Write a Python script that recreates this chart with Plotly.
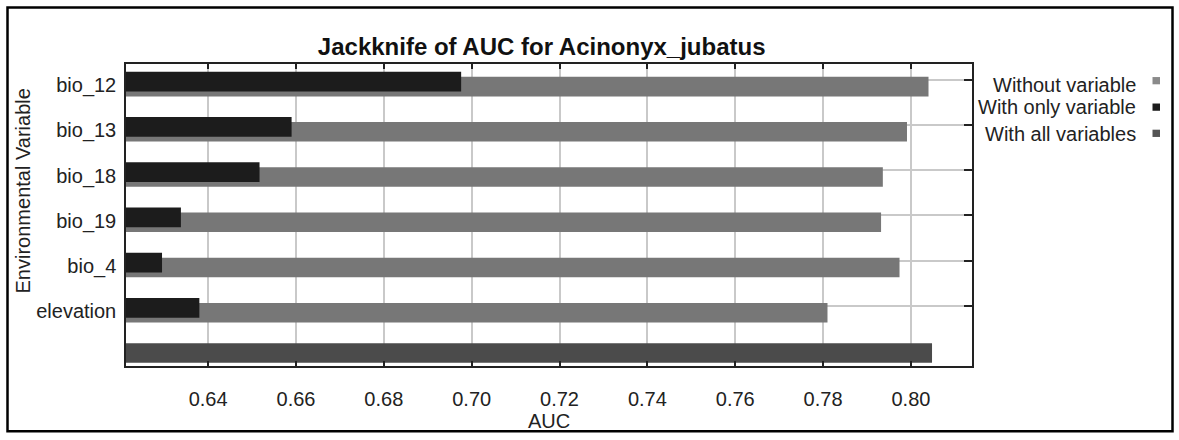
import plotly.graph_objects as go

# Jackknife test of AUC (Maxent) for Acinonyx jubatus
variables = ["bio_12", "bio_13", "bio_18", "bio_19", "bio_4", "elevation"]
auc_without = [0.8040, 0.7991, 0.7936, 0.7932, 0.7974, 0.7810]
auc_only = [0.6976, 0.6590, 0.6517, 0.6338, 0.6295, 0.6380]
auc_all = 0.8048
x_ticks = [0.64, 0.66, 0.68, 0.70, 0.72, 0.74, 0.76, 0.78, 0.80]

W, H = 1179, 440
ML, MR, MT, MB = 126, 207, 64, 68
PW, PH = W - ML - MR, H - MT - MB

FONT = "Liberation Sans, Arial, sans-serif"
TXT = "#222222"
C_WITHOUT = "#777777"
C_ONLY = "#1c1c1c"
C_ALL = "#4b4b4b"
GRID = "#c9c9c9"


def px_x(px):
    return (px - ML) / PW


def px_y(py):
    return (H - MB - py) / PH


# row positions: top variable highest, "all variables" row at 0
rows = [len(variables) - i for i in range(len(variables))]
ROW_PX = 46.13
bar_w = 20 / ROW_PX
y_only = [r - 2 / ROW_PX for r in rows]
y_without = [r - 7 / ROW_PX for r in rows]
y_label = [r - 5.5 / ROW_PX for r in rows]
y_range = [-(372 - 356.8) / ROW_PX, (356.8 - 64) / ROW_PX]

fig = go.Figure()
fig.add_trace(go.Bar(
    name="Without variable", orientation="h",
    x=auc_without, y=y_without, width=bar_w,
    marker=dict(color=C_WITHOUT, line=dict(width=0)),
    showlegend=False,
))
fig.add_trace(go.Bar(
    name="With only variable", orientation="h",
    x=auc_only, y=y_only, width=bar_w,
    marker=dict(color=C_ONLY, line=dict(width=0)),
    showlegend=False,
))
fig.add_trace(go.Bar(
    name="With all variables", orientation="h",
    x=[auc_all], y=[-2 / ROW_PX], width=bar_w,
    marker=dict(color=C_ALL, line=dict(width=0)),
    showlegend=False,
))

fig.update_layout(
    width=W, height=H,
    margin=dict(l=ML, r=MR, t=MT, b=MB),
    paper_bgcolor="white", plot_bgcolor="white",
    barmode="overlay",
    font=dict(family=FONT, size=20, color=TXT),
    title=dict(
        text="<b>Jackknife of AUC for Acinonyx_jubatus</b>",
        font=dict(family=FONT, size=24, color="#111111"),
        x=px_x(541.7) * PW / W + ML / W, xanchor="center",
        yref="container", y=1 - 47 / H, yanchor="middle",
    ),
    xaxis=dict(
        range=[0.6213, 0.8139],
        tickvals=x_ticks,
        ticktext=[f"{v:.2f}" for v in x_ticks],
        ticks="inside", ticklen=5, tickwidth=1.5, tickcolor="#222222",
        showline=True, linecolor="#222222", linewidth=1.5, mirror="ticks",
        showgrid=True, gridcolor=GRID, gridwidth=1.5,
        zeroline=False,
        ticklabelstandoff=14,
        tickfont=dict(size=20, color=TXT),
        title=dict(text="AUC", font=dict(size=20, color=TXT), standoff=4),
    ),
    yaxis=dict(
        range=y_range,
        tickvals=y_label[:],
        ticktext=variables,
        ticks="", showgrid=False, zeroline=False,
        showline=True, linecolor="#222222", linewidth=1.5, mirror=True,
        ticklabelstandoff=4,
        tickfont=dict(size=20, color=TXT),
    ),
    yaxis2=dict(
        overlaying="y", side="right", range=y_range,
        tickvals=rows, showticklabels=False,
        ticks="inside", ticklen=8, tickwidth=1.5, tickcolor="#222222",
        showgrid=True, gridcolor=GRID, gridwidth=1.5,
        zeroline=False, showline=False,
    ),
)

# invisible trace to activate the right-hand axis
fig.add_trace(go.Scatter(x=[None], y=[None], yaxis="y2", showlegend=False,
                         hoverinfo="skip"))

# y-axis title
fig.add_annotation(
    text="Environmental Variable", textangle=-90,
    xref="paper", yref="paper", x=px_x(23), y=px_y(194),
    xanchor="center", yanchor="middle", showarrow=False,
    font=dict(size=20, color=TXT),
)

# legend: right-aligned labels with swatches on the right
legend_items = [("Without variable", "#8a8a8a", 85, 81),
                ("With only variable", C_ONLY, 108, 108),
                ("With all variables", "#555555", 135, 134.7)]
for label, col, ty, sy in legend_items:
    fig.add_annotation(
        text=label, xref="paper", yref="paper",
        x=px_x(1138), y=px_y(ty), xanchor="right", yanchor="middle",
        showarrow=False, font=dict(size=20, color=TXT),
    )
    fig.add_shape(
        type="rect", xref="paper", yref="paper",
        x0=px_x(1152.5), x1=px_x(1160), y0=px_y(sy + 3.7), y1=px_y(sy - 3.7),
        fillcolor=col, line=dict(width=0),
    )

# outer frame
fig.add_shape(
    type="rect", xref="paper", yref="paper",
    x0=px_x(7.5), x1=px_x(1172.5), y0=px_y(438.5), y1=px_y(6.5),
    line=dict(color="#000000", width=2.5), fillcolor="rgba(0,0,0,0)",
)

fig.write_html("out.html")
